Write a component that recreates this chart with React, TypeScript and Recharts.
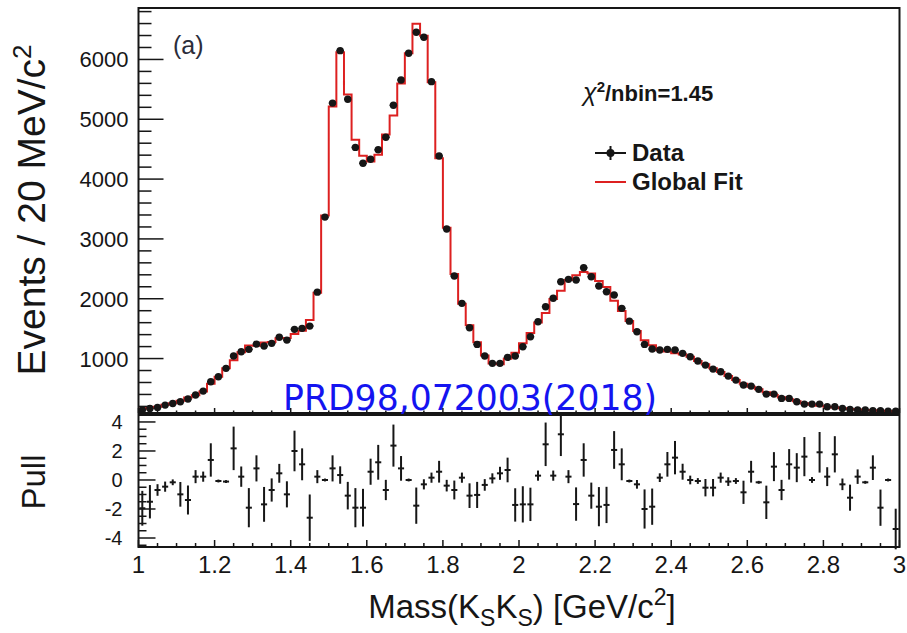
import React from "react";
import {
  ComposedChart,
  Scatter,
  Line,
  XAxis,
  YAxis,
  ErrorBar,
  ReferenceArea,
} from "recharts";

const FONT = '"Liberation Sans", Arial, Helvetica, sans-serif';
const INK = "#161616";
const FIT_RED = "#dd2020";
const NOTE_BLUE = "#1414f0";

// Events per 20 MeV bin, 1.00 - 3.00 GeV/c^2 (100 bins)
const events = [
  140, 167, 184, 222, 250, 278, 323, 390, 456, 612,
  696, 836, 1042, 1114, 1154, 1242, 1209, 1254, 1355, 1309,
  1488, 1505, 1543, 2110, 3365, 5270, 6147, 5334, 4530, 4264,
  4331, 4490, 4699, 5234, 5657, 6104, 6455, 6371, 5629, 4386,
  3165, 2380, 1923, 1515, 1237, 1042, 920, 920, 1020, 1042,
  1197, 1365, 1615, 1866, 2007, 2284, 2324, 2313, 2518, 2368,
  2212, 2117, 2062, 1839, 1625, 1448, 1237, 1159, 1142, 1154,
  1142, 1087, 1030, 958, 891, 824, 779, 707, 640, 557,
  540, 485, 406, 406, 334, 334, 278, 239, 239, 239,
  194, 194, 167, 150, 139, 139, 127, 127, 122, 122,
];

// Global fit prediction per bin
const globalFit = [
  163, 186, 193, 229, 253, 295, 348, 385, 451, 578,
  698, 839, 972, 1106, 1219, 1214, 1267, 1278, 1338, 1345,
  1411, 1463, 1645, 2099, 3390, 5212, 6120, 5413, 4659, 4389,
  4293, 4408, 4746, 5063, 5597, 6104, 6597, 6395, 5617, 4348,
  3187, 2414, 1916, 1557, 1273, 1053, 917, 906, 998, 1098,
  1255, 1427, 1603, 1760, 1994, 2133, 2313, 2393, 2449, 2421,
  2298, 2196, 1968, 1793, 1628, 1459, 1307, 1222, 1137, 1117,
  1090, 1068, 1030, 960, 907, 839, 775, 710, 642, 577,
  530, 487, 437, 392, 352, 318, 285, 255, 230, 210,
  194, 180, 168, 158, 149, 141, 134, 128, 123, 118,
];

// Pull per bin and its uncertainty
const pulls = [
  -1.95, -1.5, -0.69, -0.46, -0.16, -0.99, -1.38, 0.23, 0.23, 1.38,
  -0.07, -0.11, 2.18, 0.23, -1.91, 0.8, -1.68, -0.69, 0.46, -0.99,
  2.0, 1.08, -2.6, 0.23, 0, 0.8, 0.34, -1.08, -1.91, -1.91,
  0.57, 1.22, -0.69, 2.37, 0.8, 0, -1.77, -0.3, 0.16, 0.57,
  -0.39, -0.69, 0.16, -1.08, -1.03, -0.34, 0.11, 0.46, 0.69, -1.72,
  -1.68, -1.68, 0.3, 2.46, 0.3, 3.15, 0.23, -1.66, 1.38, -1.08,
  -1.84, -1.72, 2.07, 1.08, -0.07, -0.3, -2.0, -1.84, 0.16, 1.08,
  1.54, 0.57, 0, -0.07, -0.53, -0.53, 0.16, -0.11, -0.07, -0.85,
  0.57, -0.16, -1.54, 0.92, -0.69, 1.08, 0.85, 1.61, 0, 1.91,
  0.23, 1.77, -0.3, -1.22, 0.23, -0.16, 0.85, -1.91, 0, -3.38,
];
const pullErrors = [
  1.2, 1.15, 0.4, 0.35, 0.2, 0.85, 1.0, 0.45, 0.35, 1.15,
  0.1, 0.1, 1.5, 0.7, 1.35, 0.9, 1.2, 0.8, 0.65, 0.9,
  1.4, 1.1, 1.6, 0.45, 0.1, 0.9, 0.6, 0.95, 1.35, 1.3,
  0.9, 1.2, 0.7, 1.45, 0.85, 0.1, 1.25, 0.35, 0.35, 0.75,
  0.4, 0.65, 0.35, 0.85, 0.9, 0.4, 0.35, 0.45, 0.85, 1.15,
  1.25, 1.15, 0.35, 1.5, 0.35, 1.5, 0.45, 1.15, 1.15, 0.9,
  1.35, 1.25, 1.3, 1.1, 0.1, 0.3, 1.35, 1.25, 0.3, 0.85,
  1.15, 0.55, 0.3, 0.2, 0.6, 0.6, 0.35, 0.3, 0.2, 0.8,
  0.75, 0.1, 1.15, 1.0, 0.7, 1.05, 1.0, 1.35, 0.2, 1.4,
  0.65, 1.25, 0.4, 0.9, 0.5, 0.1, 0.85, 1.25, 0.1, 1.4,
];

const BIN_HALF = 0.01;
const binCenters = events.map((_, i) => Number((1.01 + 0.02 * i).toFixed(2)));

// axis tick positions (major + minor)
const massTicks = Array.from({ length: 41 }, (_, i) => Number((1 + 0.05 * i).toFixed(2)));
const eventTicks = Array.from({ length: 34 }, (_, i) => 200 * (i + 1));
const pullTicks = Array.from({ length: 19 }, (_, i) => -4.5 + 0.5 * i);

const EVENTS_DOMAIN: [number, number] = [90, 6860];
const PULL_DOMAIN: [number, number] = [-4.62, 4.48];

const dataPoints = binCenters.map((x, i) => ({ x, y: events[i], xerr: BIN_HALF }));
const fitSteps = [
  ...binCenters.map((x, i) => ({ x: Number((x - BIN_HALF).toFixed(2)), y: globalFit[i] })),
  { x: 3, y: globalFit[globalFit.length - 1] },
];
const pullPoints = binCenters.map((x, i) => ({ x, y: pulls[i], err: pullErrors[i], xerr: 0.008 }));

const near = (a: number, b: number) => Math.abs(a - b) < 1e-6;
const isMajorMass = (v: number) => near(v * 5, Math.round(v * 5));
const massLabel = (v: number) => (near(v, Math.round(v)) ? String(Math.round(v)) : v.toFixed(1));

function makeMassTick(majorLen: number, minorLen: number, withLabels: boolean) {
  return (props: any) => {
    const { x, y, payload } = props;
    const major = isMajorMass(payload.value);
    const len = major ? majorLen : minorLen;
    return (
      <g>
        <line x1={x} x2={x} y1={y} y2={y - len} stroke={INK} strokeWidth={1.5} />
        {withLabels && major && (
          <text x={x} y={y + 26} textAnchor="middle" fontSize={24} fill={INK} fontFamily={FONT}>
            {massLabel(payload.value)}
          </text>
        )}
      </g>
    );
  };
}

function makeValueTick(
  isMajor: (v: number) => boolean,
  majorLen: number,
  minorLen: number,
  fontSize: number,
  labelGap: number,
  baselineShift: number
) {
  return (props: any) => {
    const { x, y, payload } = props;
    const major = isMajor(payload.value);
    const len = major ? majorLen : minorLen;
    return (
      <g>
        <line x1={x} x2={x + len} y1={y} y2={y} stroke={INK} strokeWidth={1.5} />
        {major && (
          <text
            x={x - labelGap}
            y={y + baselineShift}
            textAnchor="end"
            fontSize={fontSize}
            fill={INK}
            fontFamily={FONT}
          >
            {String(payload.value)}
          </text>
        )}
      </g>
    );
  };
}

const upperMassTick = makeMassTick(5, 2.5, false);
const lowerMassTick = makeMassTick(7, 4, true);
const eventTick = makeValueTick((v) => v % 1000 === 0, 25, 13, 22, 10, 8);
const pullTick = makeValueTick((v) => near(v / 2, Math.round(v / 2)), 17, 8, 20, 16, 7);

const noMarker = () => <g />;
const dataMarker = (p: any) => <circle cx={p.cx} cy={p.cy} r={3.7} fill={INK} />;

function EventsPanel() {
  return (
    <ComposedChart width={907} height={633} margin={{ top: 8, right: 7.5, bottom: 190, left: 38.5 }}>
      <XAxis
        dataKey="x"
        type="number"
        domain={[1, 3]}
        ticks={massTicks}
        interval={0}
        tick={upperMassTick}
        tickLine={false}
        axisLine={false}
        tickSize={0}
        tickMargin={0}
        height={30}
        allowDataOverflow
      />
      <YAxis
        dataKey="y"
        type="number"
        domain={EVENTS_DOMAIN}
        ticks={eventTicks}
        interval={0}
        tick={eventTick}
        tickLine={false}
        axisLine={false}
        tickSize={0}
        tickMargin={0}
        width={100}
        allowDataOverflow
      />
      <Scatter data={dataPoints} dataKey="y" shape={noMarker} isAnimationActive={false}>
        <ErrorBar dataKey="xerr" direction="x" width={0} stroke={INK} strokeWidth={1.5} isAnimationActive={false} />
      </Scatter>
      <Line
        data={fitSteps}
        dataKey="y"
        type="stepAfter"
        stroke={FIT_RED}
        strokeWidth={2}
        dot={false}
        activeDot={false}
        isAnimationActive={false}
      />
      <Scatter data={dataPoints} dataKey="y" shape={dataMarker} isAnimationActive={false} />
      <ReferenceArea
        x1={1}
        x2={3}
        y1={EVENTS_DOMAIN[0]}
        y2={EVENTS_DOMAIN[1]}
        fill="none"
        stroke={INK}
        strokeWidth={2}
        ifOverflow="visible"
      />
    </ComposedChart>
  );
}

function PullPanel() {
  return (
    <ComposedChart width={907} height={633} margin={{ top: 415, right: 7.5, bottom: 26, left: 38.5 }}>
      <XAxis
        dataKey="x"
        type="number"
        domain={[1, 3]}
        ticks={massTicks}
        interval={0}
        tick={lowerMassTick}
        tickLine={false}
        axisLine={false}
        tickSize={0}
        tickMargin={0}
        height={60}
        allowDataOverflow
      />
      <YAxis
        dataKey="y"
        type="number"
        domain={PULL_DOMAIN}
        ticks={pullTicks}
        interval={0}
        tick={pullTick}
        tickLine={false}
        axisLine={false}
        tickSize={0}
        tickMargin={0}
        width={100}
        allowDataOverflow
      />
      <Scatter data={pullPoints} dataKey="y" shape={noMarker} isAnimationActive={false}>
        <ErrorBar dataKey="err" direction="y" width={0} stroke={INK} strokeWidth={2} isAnimationActive={false} />
        <ErrorBar dataKey="xerr" direction="x" width={0} stroke={INK} strokeWidth={2} isAnimationActive={false} />
      </Scatter>
      <ReferenceArea
        x1={1}
        x2={3}
        y1={PULL_DOMAIN[0]}
        y2={PULL_DOMAIN[1]}
        fill="none"
        stroke={INK}
        strokeWidth={2}
        ifOverflow="visible"
      />
    </ComposedChart>
  );
}

function Annotations() {
  return (
    <svg width={907} height={633} style={{ position: "absolute", left: 0, top: 0, pointerEvents: "none" }}>
      <g fontFamily={FONT} fill={INK}>
        <text x={173} y={54} fontSize={25} fill="#2b2d3a">(a)</text>

        <text x={583} y={101} fontSize={22} fontWeight="bold">
          <tspan fontStyle="italic" fontWeight="normal" fontSize={25}>χ</tspan>
          <tspan dy={-9} fontSize={15}>2</tspan>
          <tspan dy={9}>/nbin=1.45</tspan>
        </text>

        {/* legend */}
        <line x1={595} x2={626} y1={153} y2={153} stroke={INK} strokeWidth={2} />
        <line x1={610.5} x2={610.5} y1={146} y2={160} stroke={INK} strokeWidth={2} />
        <circle cx={610.5} cy={153} r={4} fill={INK} />
        <text x={632} y={161} fontSize={24} fontWeight="bold">Data</text>
        <line x1={595} x2={626} y1={182} y2={182} stroke={FIT_RED} strokeWidth={2} />
        <text x={632} y={190} fontSize={24} fontWeight="bold">Global Fit</text>

        <text x={283} y={410} fontSize={35} fill={NOTE_BLUE} fontFamily='"DejaVu Sans", sans-serif' textLength={374} lengthAdjust="spacingAndGlyphs">
          PRD98,072003(2018)
        </text>

        {/* axis titles */}
        <text transform="translate(45,210) rotate(-90)" textAnchor="middle" fontSize={39}>
          Events / 20 MeV/c<tspan dy={-14} fontSize={26}>2</tspan>
        </text>
        <text transform="translate(45,482) rotate(-90)" textAnchor="middle" fontSize={33}>Pull</text>
        <text x={522} y={618} textAnchor="middle" fontSize={33}>
          Mass(K<tspan dy={8} fontSize={23}>S</tspan>
          <tspan dy={-8}>K</tspan>
          <tspan dy={8} fontSize={23}>S</tspan>
          <tspan dy={-8}>) [GeV/c</tspan>
          <tspan dy={-13} fontSize={23}>2</tspan>
          <tspan dy={13}>]</tspan>
        </text>
      </g>
    </svg>
  );
}

export default function App() {
  return (
    <div style={{ position: "absolute", left: 0, top: 0, width: 907, height: 633, background: "#fff" }}>
      <div style={{ position: "absolute", left: 0, top: 0 }}>
        <EventsPanel />
      </div>
      <div style={{ position: "absolute", left: 0, top: 0 }}>
        <PullPanel />
      </div>
      <Annotations />
    </div>
  );
}
